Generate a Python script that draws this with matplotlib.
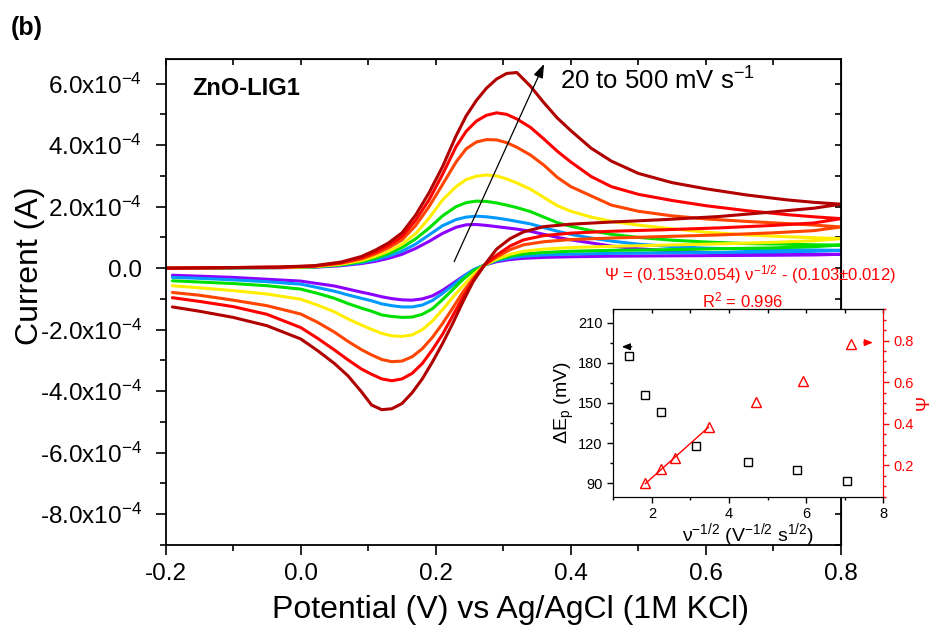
import numpy as np
import matplotlib
matplotlib.use('Agg')
import matplotlib.pyplot as plt
from matplotlib.ticker import MultipleLocator, FuncFormatter

plt.rcParams['font.family'] = ['Liberation Sans', 'DejaVu Sans']
plt.rcParams['mathtext.fontset'] = 'custom'
plt.rcParams['mathtext.rm'] = 'Liberation Sans'
plt.rcParams['mathtext.it'] = 'Liberation Sans:italic'
plt.rcParams['mathtext.bf'] = 'Liberation Sans:bold'
plt.rcParams['axes.unicode_minus'] = False

# Scan rates (mV/s) and the colour used for each CV
scan_rates = [20, 30, 50, 100, 200, 300, 500]
colors = ['#8B00FF', '#0099FF', '#00E000', '#FFEE00', '#FF4500', '#FF0000', '#B00000']

# Forward (anodic) sweep, potential in V, current in 1e-4 A
E_fwd = [-0.2, -0.1, -0.03, 0.02, 0.06, 0.09, 0.11, 0.13, 0.15, 0.17, 0.19, 0.21, 0.23, 0.245, 0.26, 0.275,
         0.29, 0.305, 0.32, 0.34, 0.36, 0.38, 0.40, 0.43, 0.46, 0.5, 0.55, 0.6, 0.66, 0.72, 0.76, 0.8]
I_fwd_20 = [0, .01, .015, .03, .08, .15, .22, .32, .45, .64, .87, 1.13, 1.33, 1.41, 1.42, 1.39,
            1.35, 1.31, 1.27, 1.2, 1.1, 1.0, .92, .82, .72, .63, .56, .51, .48, .46, .455, .45]
I_fwd_30 = [0, .01, .02, .04, .1, .18, .27, .39, .55, .78, 1.08, 1.38, 1.58, 1.66, 1.69, 1.67,
            1.63, 1.58, 1.52, 1.44, 1.32, 1.2, 1.1, .98, .88, .78, .7, .65, .62, .6, .59, .58]
I_fwd_50 = [0, .01, .02, .04, .11, .21, .32, .47, .67, .95, 1.3, 1.7, 2.0, 2.13, 2.18, 2.17,
            2.12, 2.05, 1.97, 1.84, 1.66, 1.48, 1.36, 1.22, 1.1, 1.0, .91, .85, .8, .78, .76, .75]
I_fwd_100 = [0, .02, .02, .05, .13, .25, .38, .55, .78, 1.12, 1.62, 2.22, 2.65, 2.88, 2.99, 3.03,
             3.0, 2.9, 2.77, 2.57, 2.3, 2.03, 1.85, 1.66, 1.52, 1.4, 1.28, 1.17, 1.08, 1.02, .99, .96]
I_fwd_200 = [0, .02, .03, .06, .16, .3, .46, .66, .92, 1.38, 2.0, 2.72, 3.45, 3.88, 4.1, 4.18,
             4.17, 4.08, 3.93, 3.68, 3.35, 2.95, 2.65, 2.35, 2.05, 1.85, 1.7, 1.6, 1.52, 1.45, 1.4, 1.34]
I_fwd_300 = [0, .02, .03, .07, .18, .34, .52, .74, 1.03, 1.55, 2.22, 3.05, 3.95, 4.45, 4.78, 4.97,
             5.05, 5.0, 4.85, 4.58, 4.2, 3.8, 3.45, 2.98, 2.65, 2.4, 2.2, 2.03, 1.87, 1.74, 1.67, 1.61]
I_fwd_500 = [0, .02, .04, .08, .2, .38, .58, .82, 1.15, 1.72, 2.45, 3.3, 4.3, 4.95, 5.45, 5.85,
             6.15, 6.33, 6.36, 5.92, 5.38, 4.88, 4.47, 3.9, 3.48, 3.08, 2.78, 2.58, 2.38, 2.22, 2.14, 2.08]

# Reverse (cathodic) sweep
E_rev = [0.8, 0.76, 0.7, 0.62, 0.54, 0.46, 0.4, 0.36, 0.33, 0.31, 0.29, 0.272, 0.255, 0.24, 0.225, 0.21,
         0.195, 0.18, 0.165, 0.15, 0.135, 0.12, 0.105, 0.09, 0.07, 0.05, 0.025, 0.0, -0.05, -0.1, -0.15, -0.19]
I_rev_20 = [.45, .43, .42, .41, .4, .39, .37, .35, .32, .28, .21, .1, -.07, -.27, -.5, -.72,
            -.9, -1.0, -1.04, -1.03, -.99, -.93, -.85, -.78, -.68, -.58, -.5, -.42, -.36, -.3, -.26, -.23]
I_rev_30 = [.58, .55, .53, .51, .5, .48, .46, .43, .39, .33, .24, .1, -.06, -.29, -.56, -.82,
            -1.05, -1.2, -1.26, -1.26, -1.22, -1.16, -1.06, -.98, -.87, -.75, -.63, -.52, -.44, -.38, -.33, -.3]
I_rev_50 = [.75, .7, .66, .63, .6, .58, .55, .51, .46, .39, .27, .1, -.1, -.37, -.7, -1.02,
            -1.32, -1.5, -1.59, -1.6, -1.57, -1.52, -1.4, -1.3, -1.15, -.98, -.82, -.68, -.57, -.5, -.45, -.41]
I_rev_100 = [.96, .89, .84, .79, .75, .71, .67, .62, .55, .45, .29, .1, -.22, -.58, -.95, -1.35,
             -1.72, -2.0, -2.17, -2.22, -2.2, -2.12, -1.99, -1.85, -1.65, -1.42, -1.2, -1.01, -.84, -.73, -.64, -.57]
I_rev_200 = [1.34, 1.22, 1.15, 1.08, 1.03, .98, .93, .86, .76, .6, .36, .1, -.34, -.78, -1.3, -1.8,
             -2.25, -2.62, -2.88, -3.02, -3.04, -2.97, -2.82, -2.65, -2.38, -2.08, -1.76, -1.49, -1.22, -1.04, -.88, -.79]
I_rev_300 = [1.61, 1.47, 1.39, 1.31, 1.25, 1.2, 1.14, 1.06, .92, .72, .42, .1, -.42, -.95, -1.55, -2.15,
             -2.65, -3.1, -3.42, -3.6, -3.66, -3.6, -3.45, -3.28, -2.98, -2.66, -2.28, -1.93, -1.5, -1.25, -1.08, -.96]
I_rev_500 = [2.08, 1.95, 1.83, 1.68, 1.58, 1.5, 1.43, 1.35, 1.18, .96, .62, .1, -.45, -1.1, -1.8, -2.45,
             -3.05, -3.6, -4.05, -4.4, -4.57, -4.6, -4.45, -4.02, -3.5, -3.1, -2.68, -2.3, -1.87, -1.6, -1.4, -1.26]

fwd = [I_fwd_20, I_fwd_30, I_fwd_50, I_fwd_100, I_fwd_200, I_fwd_300, I_fwd_500]
rev = [I_rev_20, I_rev_30, I_rev_50, I_rev_100, I_rev_200, I_rev_300, I_rev_500]

# Inset data: peak separation vs nu^-1/2, and Psi vs nu^-1/2
x_sq = [7.07, 5.75, 4.48, 3.14, 2.23, 1.82, 1.41]
dEp = [92, 100, 106, 118, 143, 156, 185]
x_tri = [1.83, 2.25, 2.61, 3.47, 4.69, 5.92, 7.16]
psi = [0.115, 0.184, 0.234, 0.387, 0.504, 0.605, 0.784]

fig = plt.figure(figsize=(9.32, 6.33), dpi=100)
ax = fig.add_axes([0.1777, 0.139, 0.7247, 0.7678])

for rate, c, f, r in zip(scan_rates, colors, fwd, rev):
    E = np.concatenate([E_fwd, E_rev])
    I = np.concatenate([f, r]) * 1e-4
    ax.plot(E, I, color=c, lw=2.2, solid_capstyle='round', solid_joinstyle='round')

ax.set_xlim(-0.2, 0.8)
ax.set_ylim(-9e-4, 6.8e-4)
ax.xaxis.set_major_locator(MultipleLocator(0.2))
ax.xaxis.set_minor_locator(MultipleLocator(0.1))
ax.yaxis.set_major_locator(MultipleLocator(2e-4))
ax.yaxis.set_minor_locator(MultipleLocator(1e-4))


def sci_fmt(v, pos):
    if abs(v) < 1e-12:
        return '0.0'
    return f'{v / 1e-4:.1f}x10$^{{-4}}$'


ax.yaxis.set_major_formatter(FuncFormatter(sci_fmt))
ax.xaxis.set_major_formatter(FuncFormatter(lambda v, p: f'{v:.1f}'))
ax.tick_params(which='both', direction='out', width=1.2, labelsize=17.5)
ax.tick_params(which='major', length=7)
ax.tick_params(which='minor', length=4)
ax.tick_params(axis='y', pad=10)
ax.tick_params(axis='x', pad=6)
for s in ax.spines.values():
    s.set_linewidth(1.3)

# inward ticks on the top and right edges
top = ax.secondary_xaxis('top')
top.xaxis.set_major_locator(MultipleLocator(0.1))
top.tick_params(direction='in', length=4, width=1.2, labeltop=False)
right = ax.secondary_yaxis('right')
right.yaxis.set_major_locator(MultipleLocator(1e-4))
right.tick_params(direction='in', length=4, width=1.2, labelright=False)

ax.set_xlabel('Potential (V) vs Ag/AgCl (1M KCl)', fontsize=23)
ax.xaxis.set_label_coords(0.51, -0.103)
ax.set_ylabel('Current (A)', fontsize=23)
ax.yaxis.set_label_coords(-0.178, 0.575)

ax.text(0.039, 0.94, 'ZnO-LIG1', transform=ax.transAxes, fontsize=17,
        fontweight='bold', va='center', ha='left')
ax.text(0.584, 0.955, '20 to 500 mV s$^{-1}$', transform=ax.transAxes,
        fontsize=18.5, va='center', ha='left')
ax.annotate('', xy=(0.362, 6.72e-4), xytext=(0.2255, 0.13e-4),
            arrowprops=dict(arrowstyle='-|>,head_length=0.7,head_width=0.25',
                            color='k', lw=0.9, mutation_scale=12))
fig.text(0.011, 0.956, '(b)', fontsize=18, fontweight='bold', va='center')

# Inset
axin = fig.add_axes([0.658, 0.2153, 0.2898, 0.2961])
axin.plot(x_sq, dEp, 's', mfc='none', mec='k', ms=5.5, mew=1.0)
axin.set_xlim(1, 8)
axin.set_ylim(80, 220)
axin.xaxis.set_major_locator(MultipleLocator(2))
axin.xaxis.set_minor_locator(MultipleLocator(1))
axin.yaxis.set_major_locator(MultipleLocator(30))
axin.yaxis.set_minor_locator(MultipleLocator(15))
axin.tick_params(which='both', direction='out', labelsize=10.5, width=1.0)
axin.tick_params(which='major', length=4)
axin.tick_params(which='minor', length=2.5)
axin.set_ylabel('ΔE$_{\\mathrm{p}}$ (mV)', fontsize=14, labelpad=2)
axin.set_xlabel('ν$^{-1/2}$ (V$^{-1/2}$ s$^{1/2}$)', fontsize=14, labelpad=0)
axin_top = axin.secondary_xaxis('top')
axin_top.xaxis.set_major_locator(MultipleLocator(1))
axin_top.tick_params(direction='in', length=3, width=1.0, labeltop=False)
axin.annotate('', xy=(1.15, 192), xytext=(1.55, 192),
              arrowprops=dict(arrowstyle='-|>,head_length=0.6,head_width=0.25',
                              color='k', lw=1.0, mutation_scale=8))

axr = axin.twinx()
axr.plot(x_tri, psi, '^', mfc='none', mec='red', ms=7, mew=1.0)
p = np.polyfit(x_tri[:4], psi[:4], 1)
xx = np.array([x_tri[0], x_tri[3]])
axr.plot(xx, np.polyval(p, xx), color='red', lw=1.0)
axr.set_ylim(0.05, 0.95)
axr.yaxis.set_major_locator(MultipleLocator(0.2))
axr.yaxis.set_minor_locator(MultipleLocator(0.05))
axr.tick_params(which='both', direction='out', colors='red', labelsize=10.5, width=1.0)
axr.tick_params(which='major', length=4)
axr.tick_params(which='minor', length=2.5)
axr.spines['right'].set_color('red')
axr.set_ylabel('Ψ', color='red', fontsize=13, labelpad=1)
axr.annotate('', xy=(7.8, 0.79), xytext=(7.42, 0.79),
             arrowprops=dict(arrowstyle='-|>,head_length=0.6,head_width=0.25',
                             color='red', lw=1.0, mutation_scale=8))

fig.text(0.805, 0.5655, 'Ψ = (0.153±0.054) ν$^{-1/2}$ - (0.103±0.012)',
         color='red', fontsize=12, ha='center', va='center')
fig.text(0.797, 0.526, 'R$^2$ = 0.996', color='red', fontsize=12,
         ha='center', va='center')

fig.savefig('out.png', dpi=100)
